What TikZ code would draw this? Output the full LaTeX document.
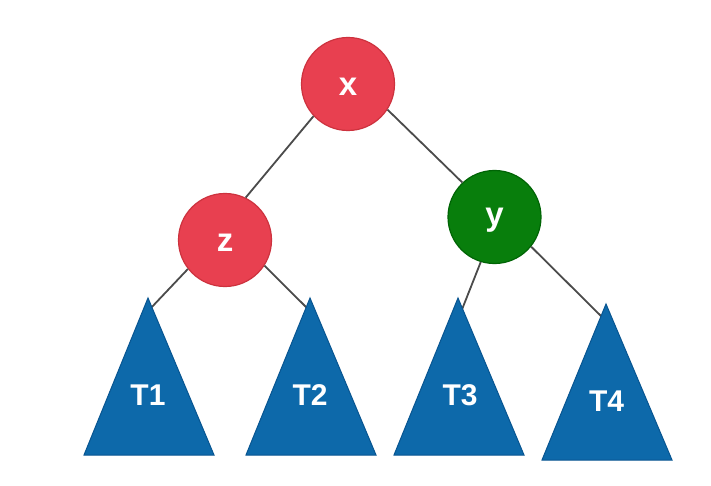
\documentclass[tikz,border=0pt]{standalone}
\usepackage{fontspec}
\setmainfont{Liberation Sans}
\definecolor{nodered}{RGB}{232,64,80}
\definecolor{noderedb}{RGB}{205,50,62}
\definecolor{nodegreen}{RGB}{8,126,12}
\definecolor{nodegreenb}{RGB}{0,100,5}
\definecolor{treeblue}{RGB}{13,105,170}
\definecolor{treeblueb}{RGB}{8,85,145}
\definecolor{edgegray}{RGB}{75,75,75}
\tikzset{
  roundnode/.style={circle, draw, line width=1.2pt, minimum size=93pt, inner sep=0pt},
  rednode/.style={roundnode, fill=nodered, draw=noderedb},
  greennode/.style={roundnode, fill=nodegreen, draw=nodegreenb},
  nodetext/.style={text=white, inner sep=0pt, yshift=-3pt, font=\fontsize{33}{35}\selectfont\bfseries},
  subtree/.style={fill=treeblue, draw=treeblueb, line width=1pt, line join=miter},
  treelabel/.style={text=white, inner sep=0pt, font=\fontsize{30}{32}\selectfont\bfseries},
  edge/.style={draw=edgegray, line width=1.8pt}
}
\begin{document}
\begin{tikzpicture}[x=1pt,y=-1pt]
\useasboundingbox[fill=white] (0,0) rectangle (711,486);
% apex coordinates of the subtrees
\coordinate (a1) at (148,298);
\coordinate (a2) at (310,298);
\coordinate (a3) at (458,298);
\coordinate (a4) at (606,304);
% connector ends hidden under the triangles
\coordinate (e1) at (150,309);
\coordinate (e2) at (308,309);
\coordinate (e3) at (461,312);
\coordinate (e4) at (603,318);
% round nodes
\node[rednode, label={[nodetext]center:x}] (x) at (348,84) {};
\node[rednode, label={[nodetext]center:z}] (z) at (225,240) {};
\node[greennode, label={[nodetext]center:y}] (y) at (494.5,217) {};
% connectors
\draw[edge] (x.223) -- (z.64);
\draw[edge] (x.327) -- (y.133);
\draw[edge] (z.218) -- (e1);
\draw[edge] (z.-33) -- (e2);
\draw[edge] (y.253) -- (e3);
\draw[edge] (y.-39) -- (e4);
% subtrees
\draw[subtree] (a1) -- (214,455) -- (84,455) -- cycle;
\draw[subtree] (a2) -- (376,455) -- (246,455) -- cycle;
\draw[subtree] (a3) -- (524,455) -- (394,455) -- cycle;
\draw[subtree] (a4) -- (672,460) -- (542,460) -- cycle;
\node[treelabel] (T1) at (148,395) {T1};
\node[treelabel] (T2) at (310,395) {T2};
\node[treelabel] (T3) at (460,395) {T3};
\node[treelabel] (T4) at (606.5,401.5) {T4};
\end{tikzpicture}
\end{document}
